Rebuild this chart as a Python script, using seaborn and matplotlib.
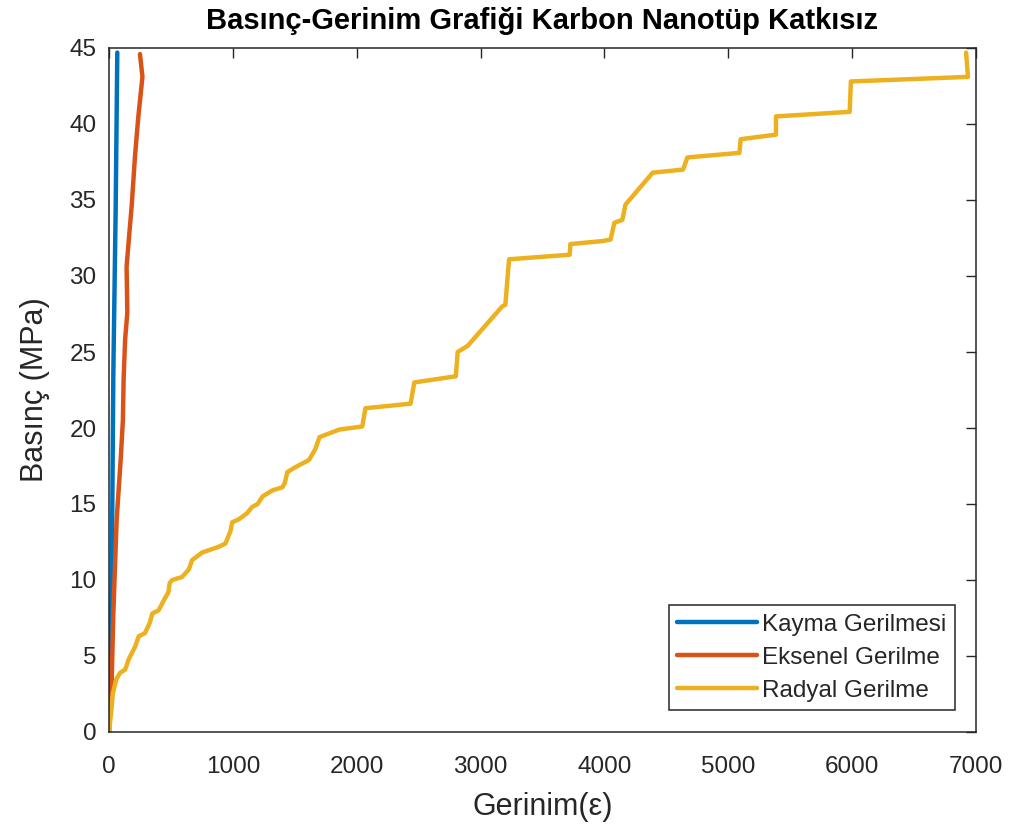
import numpy as np
import pandas as pd
import matplotlib
matplotlib.use("Agg")
import matplotlib.pyplot as plt
import seaborn as sns

# --- data (strain, pressure MPa) ---
kayma_strain = [0, 8, 22, 35, 54, 67]
kayma_press = [0, 3, 10, 23.6, 34.5, 44.7]

eksenel_strain = [0, 22, 35, 62, 95, 112, 118, 130, 148, 142, 160, 183, 210, 237, 270, 250]
eksenel_press = [0, 3.4, 7.8, 14.0, 18.0, 20.5, 23.2, 25.8, 27.6, 30.6, 32.4, 34.6, 37.9, 40.5, 43.1, 44.6]

radyal_strain = [0, 20, 30, 60, 90, 130, 160, 210, 240, 290, 330, 350, 400, 445, 480, 490,
                 510, 590, 645, 670, 750, 890, 940, 980, 995, 1050, 1115, 1155, 1200, 1240,
                 1320, 1400, 1420, 1440, 1500, 1615, 1665, 1700, 1860, 2045, 2070, 2435,
                 2465, 2800, 2815, 2895, 3175, 3200, 3230, 3720, 3725, 3985, 4050, 4080,
                 4145, 4170, 4390, 4635, 4670, 5090, 5100, 5385, 5385, 5980, 5990, 6935, 6920]
radyal_press = [0, 1.5, 2.5, 3.5, 3.9, 4.1, 4.8, 5.6, 6.3, 6.5, 7.2, 7.8, 8.0, 8.7, 9.2, 9.8,
                10.0, 10.2, 10.7, 11.3, 11.8, 12.2, 12.4, 13.2, 13.8, 14.0, 14.4, 14.8, 15.0, 15.5,
                15.9, 16.1, 16.4, 17.1, 17.4, 17.9, 18.6, 19.4, 19.9, 20.1, 21.3, 21.6,
                23.0, 23.4, 25.0, 25.4, 28.0, 28.1, 31.1, 31.4, 32.1, 32.3, 32.4, 33.5,
                33.7, 34.7, 36.8, 37.0, 37.8, 38.1, 39.0, 39.3, 40.5, 40.8, 42.8, 43.1, 44.7]

series_names = ["Kayma Gerilmesi", "Eksenel Gerilme", "Radyal Gerilme"]
colors = ["#0072BD", "#D95319", "#EDB120"]

title = "Basınç-Gerinim Grafiği Karbon Nanotüp Katkısız"
xlabel = "Gerinim(ε)"
ylabel = "Basınç (MPa)"
xticks = [0, 1000, 2000, 3000, 4000, 5000, 6000, 7000]
yticks = [0, 5, 10, 15, 20, 25, 30, 35, 40, 45]

frames = []
for name, xs, ys in zip(series_names,
                        [kayma_strain, eksenel_strain, radyal_strain],
                        [kayma_press, eksenel_press, radyal_press]):
    frames.append(pd.DataFrame({"strain": xs, "pressure": ys, "series": name}))
df = pd.concat(frames, ignore_index=True)

sns.set_style("white")
plt.rcParams["font.family"] = ["Liberation Sans", "DejaVu Sans"]

dark = "#262626"
fig = plt.figure(figsize=(10.18, 8.25), dpi=100)
ax = fig.add_axes([109 / 1018, 1 - 732 / 825, (976 - 109) / 1018, (732 - 48) / 825])

sns.lineplot(data=df, x="strain", y="pressure", hue="series", hue_order=series_names,
             palette=colors, sort=False, estimator=None, units="series",
             linewidth=3.2, ax=ax)

ax.set_xlim(0, 7000)
ax.set_ylim(0, 45)
ax.set_xticks(xticks)
ax.set_yticks(yticks)
ax.tick_params(direction="in", length=7, width=1, colors=dark, labelsize=17.5,
               top=True, right=True, labeltop=False, labelright=False)
ax.tick_params(axis="x", pad=17)
ax.tick_params(axis="y", pad=9)
for s in ax.spines.values():
    s.set_visible(True)
    s.set_color(dark)
    s.set_linewidth(1.1)

ax.set_title(title, fontsize=21, fontweight="bold", color="black", pad=14)
ax.set_xlabel(xlabel, fontsize=22, color=dark, labelpad=10)
ax.set_ylabel(ylabel, fontsize=22, color=dark, labelpad=14)

leg = ax.legend(loc="lower right", bbox_to_anchor=(0.9758, 0.032), borderaxespad=0,
                fontsize=17.5, frameon=True, fancybox=False, framealpha=1,
                edgecolor=dark, handlelength=3.3, handletextpad=0.2,
                borderpad=0.35, labelspacing=0.45, title=None)
leg.get_frame().set_linewidth(1.1)
for t in leg.get_texts():
    t.set_color(dark)

fig.savefig("out.png", dpi=100, facecolor="white")
